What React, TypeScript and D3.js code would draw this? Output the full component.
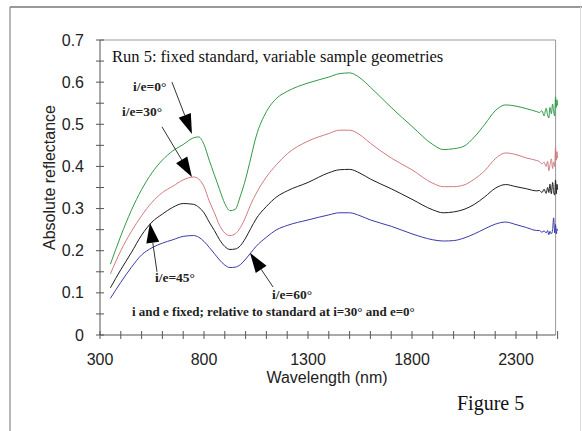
import React from "react";
import * as d3 from "d3";

const WAVES = [350, 400, 450, 500, 550, 600, 650, 700, 750, 775, 800, 825, 850, 875, 900, 925, 950, 975, 1000, 1025, 1050, 1100, 1150, 1200, 1300, 1400, 1450, 1500, 1550, 1600, 1700, 1800, 1900, 1950, 2000, 2050, 2100, 2150, 2200, 2250, 2300, 2350, 2400, 2412, 2425, 2435, 2445, 2452, 2458, 2463, 2470, 2476, 2481, 2486, 2490, 2494, 2497, 2500];

const GREEN = [0.168, 0.235, 0.295, 0.345, 0.385, 0.415, 0.437, 0.452, 0.468, 0.47, 0.452, 0.415, 0.38, 0.345, 0.312, 0.295, 0.298, 0.33, 0.37, 0.42, 0.47, 0.53, 0.562, 0.578, 0.598, 0.612, 0.62, 0.622, 0.61, 0.588, 0.54, 0.495, 0.452, 0.44, 0.442, 0.448, 0.47, 0.5, 0.532, 0.546, 0.543, 0.537, 0.53, 0.528, 0.532, 0.52, 0.538, 0.522, 0.515, 0.54, 0.525, 0.548, 0.53, 0.52, 0.565, 0.54, 0.558, 0.545];
const PINK = [0.145, 0.2, 0.245, 0.283, 0.315, 0.338, 0.353, 0.368, 0.375, 0.37, 0.352, 0.318, 0.29, 0.26, 0.242, 0.236, 0.24, 0.255, 0.28, 0.31, 0.335, 0.375, 0.405, 0.43, 0.46, 0.478, 0.486, 0.486, 0.475, 0.455, 0.42, 0.392, 0.36, 0.352, 0.352, 0.356, 0.37, 0.39, 0.418, 0.432, 0.428, 0.42, 0.414, 0.412, 0.406, 0.41, 0.4, 0.412, 0.39, 0.402, 0.418, 0.395, 0.41, 0.4, 0.445, 0.415, 0.435, 0.42];
const BLACK = [0.112, 0.155, 0.195, 0.237, 0.268, 0.287, 0.303, 0.312, 0.31, 0.303, 0.29, 0.268, 0.248, 0.226, 0.21, 0.203, 0.204, 0.212, 0.23, 0.253, 0.275, 0.305, 0.328, 0.342, 0.362, 0.385, 0.392, 0.393, 0.384, 0.37, 0.347, 0.322, 0.297, 0.29, 0.292, 0.298, 0.31, 0.328, 0.348, 0.357, 0.352, 0.347, 0.342, 0.343, 0.338, 0.346, 0.336, 0.35, 0.338, 0.358, 0.335, 0.362, 0.34, 0.332, 0.368, 0.335, 0.358, 0.345];
const BLUE = [0.087, 0.125, 0.16, 0.19, 0.207, 0.218, 0.226, 0.234, 0.236, 0.232, 0.222, 0.208, 0.193, 0.178, 0.166, 0.16, 0.161, 0.167, 0.18, 0.195, 0.21, 0.232, 0.25, 0.26, 0.273, 0.285, 0.29, 0.29, 0.283, 0.273, 0.258, 0.24, 0.226, 0.223, 0.224, 0.23, 0.24, 0.252, 0.263, 0.268, 0.262, 0.255, 0.248, 0.248, 0.244, 0.247, 0.242, 0.248, 0.238, 0.246, 0.24, 0.25, 0.278, 0.242, 0.262, 0.24, 0.252, 0.248];

const SERIES_NAMES = ["i/e=0°", "i/e=30°", "i/e=45°", "i/e=60°"];
const SERIES_COLORS = ["#2f9a46", "#d27a80", "#1e1e1e", "#3a3aa8"];
const SERIES_VALUES = [GREEN, PINK, BLACK, BLUE];

const X_TICKS = [300, 800, 1300, 1800, 2300];
const Y_TICKS = [0, 0.1, 0.2, 0.3, 0.4, 0.5, 0.6, 0.7];

// annotations in data coordinates: label anchor, line start, arrow tip
const ANN_LABEL_W = [459, 406, 564, 1127];
const ANN_LABEL_V = [0.579, 0.52, 0.126, 0.085];
const ANN_FROM_W = [646, 598, 574, 1132];
const ANN_FROM_V = [0.6, 0.494, 0.15, 0.114];
const ANN_TIP_W = [742, 742, 540, 1021];
const ANN_TIP_V = [0.477, 0.375, 0.266, 0.195];

const TITLE = "Run 5: fixed standard, variable sample geometries";
const NOTE = "i and e fixed; relative to standard at i=30° and e=0°";

export default function App() {
  const W = 582, H = 431;
  const left = 100, right = 557.6, top = 40, bottom = 335;
  const x = d3.scaleLinear().domain([300, 2500]).range([left, right]);
  const y = d3.scaleLinear().domain([0, 0.7]).range([bottom, top]);
  const line = d3.line<number>()
    .x((_, i) => x(WAVES[i]))
    .y((d) => y(d))
    .curve(d3.curveMonotoneX);

  const xMinor = d3.range(300, 2501, 100);
  const yMinor = d3.range(0, 0.7001, 0.05);
  const sans = "'Liberation Sans', Arial, sans-serif";
  const serif = "'Liberation Serif', 'Times New Roman', serif";

  const arrows = SERIES_NAMES.map((name, i) => {
    const x0 = x(ANN_FROM_W[i]), y0 = y(ANN_FROM_V[i]);
    const x1 = x(ANN_TIP_W[i]), y1 = y(ANN_TIP_V[i]);
    const dx = x1 - x0, dy = y1 - y0;
    const len = Math.hypot(dx, dy);
    const ux = dx / len, uy = dy / len;
    const hl = 20, hw = 6.5;
    const bx = x1 - ux * hl, by = y1 - uy * hl;
    const pts = [
      [x1, y1],
      [bx - uy * hw, by + ux * hw],
      [bx + uy * hw, by - ux * hw],
    ];
    return { name, x0, y0, bx, by, pts, lx: x(ANN_LABEL_W[i]), ly: y(ANN_LABEL_V[i]) };
  });

  return (
    <svg width={W} height={H} style={{ position: "absolute", left: 0, top: 0, background: "#fff" }}>
      {/* outer frame */}
      <line x1={10} y1={7} x2={582} y2={7} stroke="#777" strokeWidth={1.5} />
      <line x1={10} y1={7} x2={10} y2={431} stroke="#888" strokeWidth={1.2} />
      <line x1={580.5} y1={7} x2={580.5} y2={431} stroke="#ddd" strokeWidth={1} />

      {/* plot box top / right */}
      <line x1={left} y1={top} x2={right - 2} y2={top} stroke="#999" strokeWidth={1} />
      <line x1={right - 2} y1={top} x2={right - 2} y2={bottom} stroke="#999" strokeWidth={1} />

      {/* axes */}
      <line x1={left} y1={top} x2={left} y2={bottom} stroke="#555" strokeWidth={1} />
      <line x1={left} y1={bottom} x2={right - 2} y2={bottom} stroke="#555" strokeWidth={1} />
      {xMinor.map((t) => (
        <line key={"xm" + t} x1={x(t)} x2={x(t)} y1={bottom - 4} y2={bottom + 4} stroke="#555" strokeWidth={1} />
      ))}
      {yMinor.map((t) => (
        <line key={"ym" + t} x1={left - 4} x2={left + 4} y1={y(t)} y2={y(t)} stroke="#555" strokeWidth={1} />
      ))}
      {X_TICKS.map((t) => (
        <text key={"xt" + t} x={x(t)} y={bottom + 30} textAnchor="middle" fontFamily={sans} fontSize={16} fill="#222">
          {t}
        </text>
      ))}
      {Y_TICKS.map((t) => (
        <text key={"yt" + t} x={left - 16} y={y(t) + 5.5} textAnchor="end" fontFamily={sans} fontSize={16} fill="#222">
          {t === 0 ? "0" : t.toFixed(1)}
        </text>
      ))}
      <text x={327} y={383} textAnchor="middle" fontFamily={sans} fontSize={16} fill="#222">
        Wavelength (nm)
      </text>
      <text transform={`translate(55,${(top + bottom) / 2 - 10}) rotate(-90)`} textAnchor="middle" fontFamily={sans} fontSize={16} fill="#222">
        Absolute reflectance
      </text>

      {/* series */}
      {SERIES_VALUES.map((vals, i) => (
        <path key={SERIES_NAMES[i]} d={line(vals) || ""} fill="none" stroke={SERIES_COLORS[i]} strokeWidth={1} />
      ))}

      {/* annotations */}
      {arrows.map((a) => (
        <g key={a.name}>
          <line x1={a.x0} y1={a.y0} x2={a.bx} y2={a.by} stroke="#333" strokeWidth={1} />
          <polygon points={a.pts.map((p) => p.join(",")).join(" ")} fill="#000" />
          <text x={a.lx} y={a.ly} fontFamily={serif} fontWeight="bold" fontSize={13.5} fill="#222">
            {a.name}
          </text>
        </g>
      ))}

      <text x={112} y={62} fontFamily={serif} fontSize={16.5} fill="#111">
        {TITLE}
      </text>
      <text x={132} y={316} fontFamily={serif} fontWeight="bold" fontSize={13} fill="#222">
        {NOTE}
      </text>
      <text x={457} y={410} fontFamily={serif} fontSize={20} fill="#111">
        Figure 5
      </text>
    </svg>
  );
}
